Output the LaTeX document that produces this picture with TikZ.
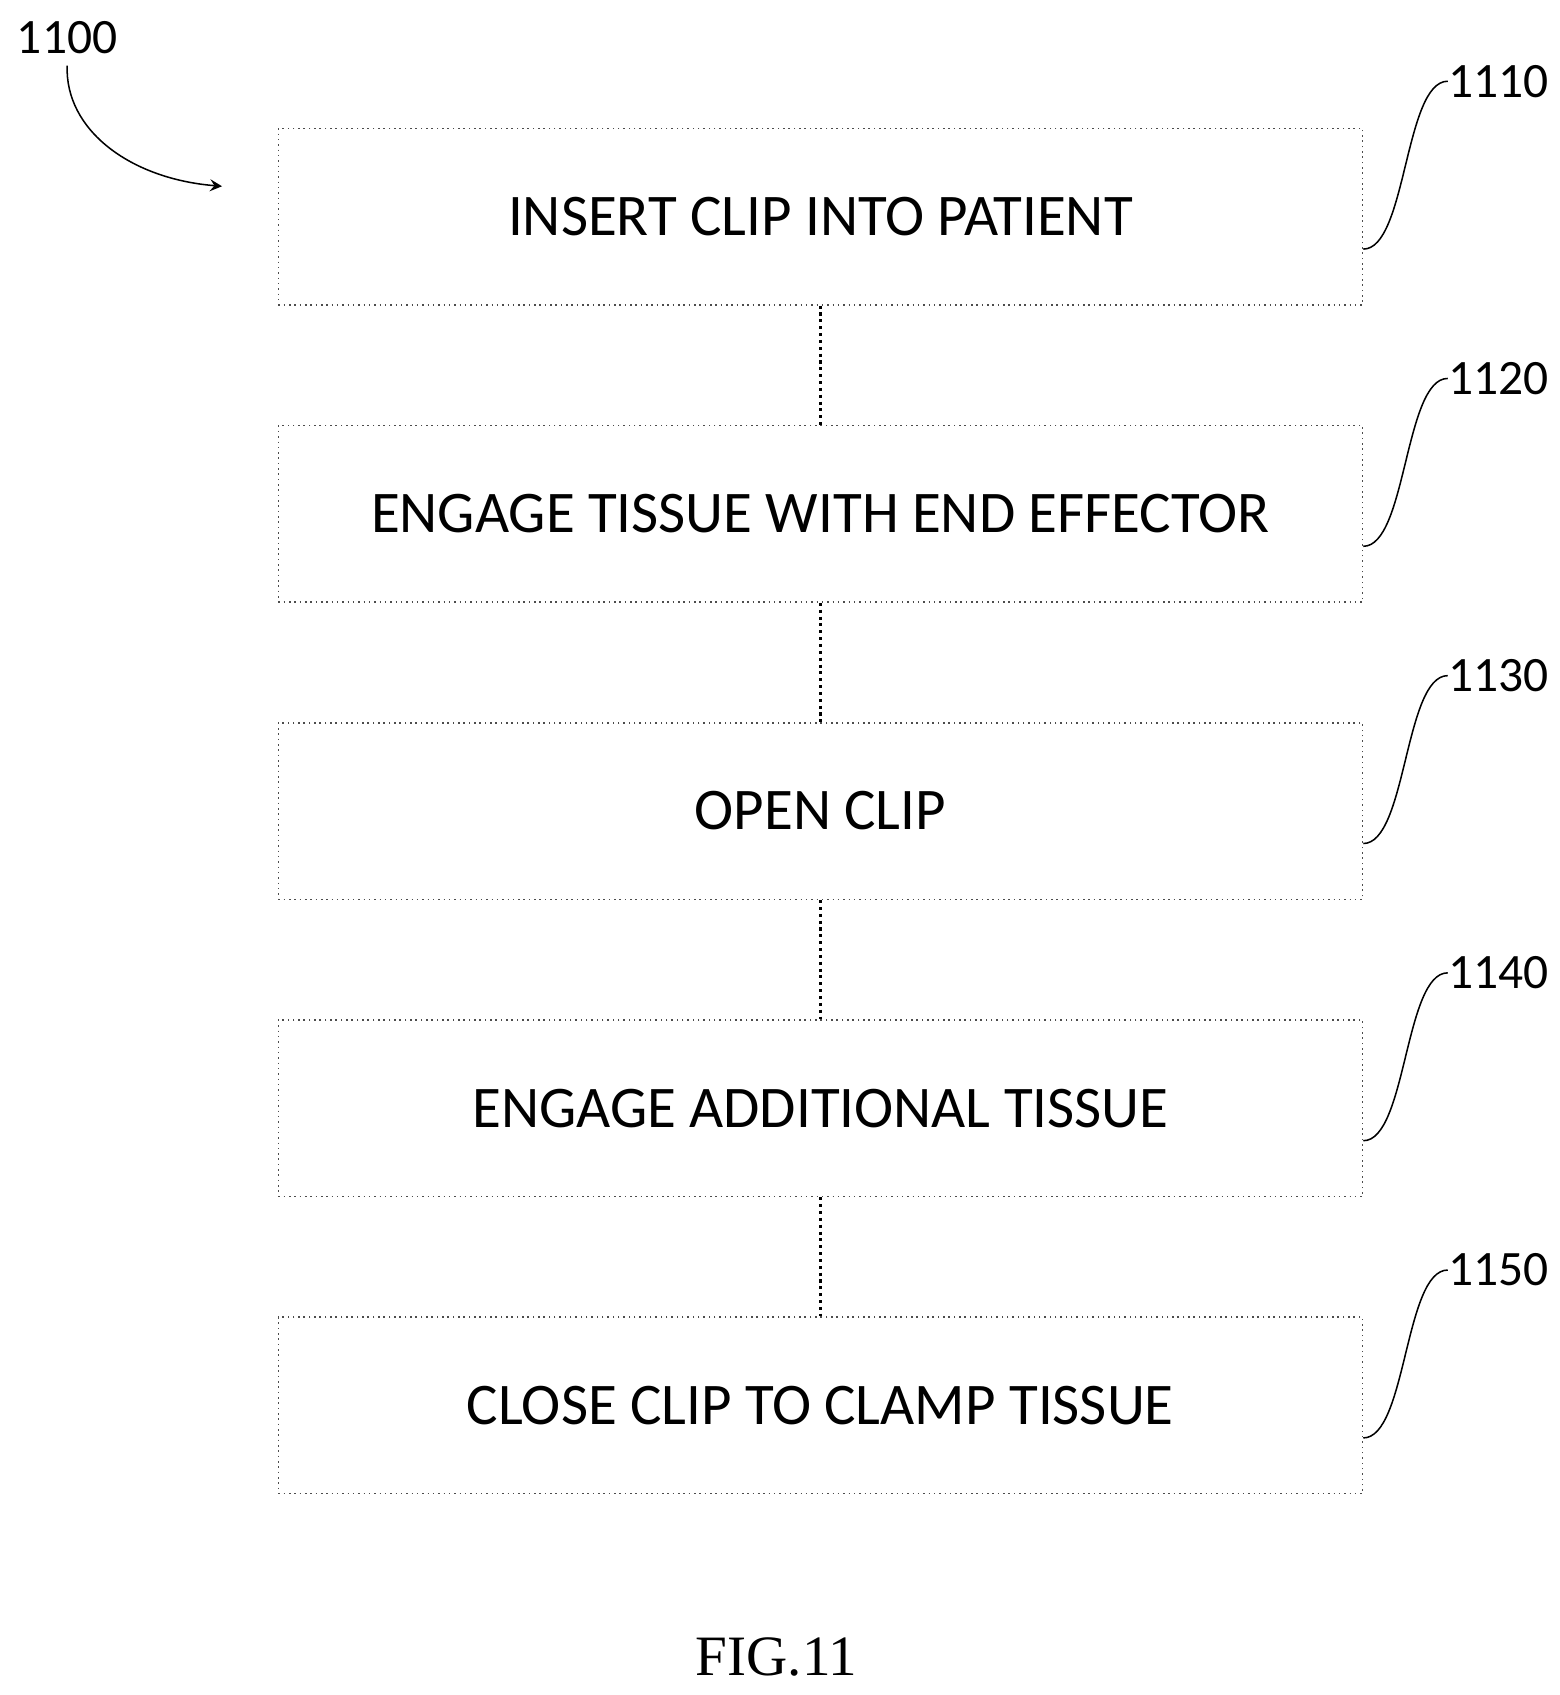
\documentclass[tikz,border=0pt]{standalone}
\usepackage{fontspec}
\setmainfont{Carlito}
\newfontfamily\figfont{Liberation Serif}
\usetikzlibrary{positioning}
\tikzset{>=stealth}
\tikzstyle{stage}=[rectangle,draw=black!70,densely dotted,thin,minimum width=10.01cm,minimum height=1.63cm,font=\fontsize{15.5}{18}\selectfont]
\tikzstyle{ref}=[font=\fontsize{13}{15}\selectfont,inner sep=0pt]

\begin{document}
\begin{tikzpicture}
	\useasboundingbox (0,0) rectangle (14.4,-15.65);
	
	\node[stage] (s1) at (7.575,-2.0) {INSERT CLIP INTO PATIENT};
	\node[stage, below=1.1cm of s1] (s2) {ENGAGE TISSUE WITH END EFFECTOR};
	\node[stage, below=1.1cm of s2] (s3) {OPEN CLIP};
	\node[stage, below=1.1cm of s3] (s4) {ENGAGE ADDITIONAL TISSUE};
	\node[stage, below=1.1cm of s4] (s5) {CLOSE CLIP TO CLAMP TISSUE};
	
	\draw[densely dotted, thick] (s1) -- (s2);
	\draw[densely dotted, thick] (s2) -- (s3);
	\draw[densely dotted, thick] (s3) -- (s4);
	\draw[densely dotted, thick] (s4) -- (s5);
	
	% reference numerals
	\foreach \i/\n in {1/1110,2/1120,3/1130,4/1140,5/1150} {
		\node[ref, anchor=west] (r\i) at ([xshift=0.78cm,yshift=1.25cm]s\i.east) {\n};
		\coordinate (c\i) at ([yshift=-0.3cm]s\i.east);
		\draw (c\i) .. controls ([xshift=0.4cm]c\i) and ([xshift=-0.4cm]r\i.west) .. (r\i.west);
	}
	
	\node[ref] (main) at (0.62,-0.35) {1100};
	\coordinate (mainend) at (2.05,-1.72);
	\draw[->] ([yshift=-0.1cm]main.south) .. controls (0.6,-1.2) and (1.2,-1.65) .. (mainend);
	
	\node[font=\figfont\fontsize{15}{18}\selectfont] (fig) at (7.17,-15.3) {FIG.11};
\end{tikzpicture}
\end{document}
